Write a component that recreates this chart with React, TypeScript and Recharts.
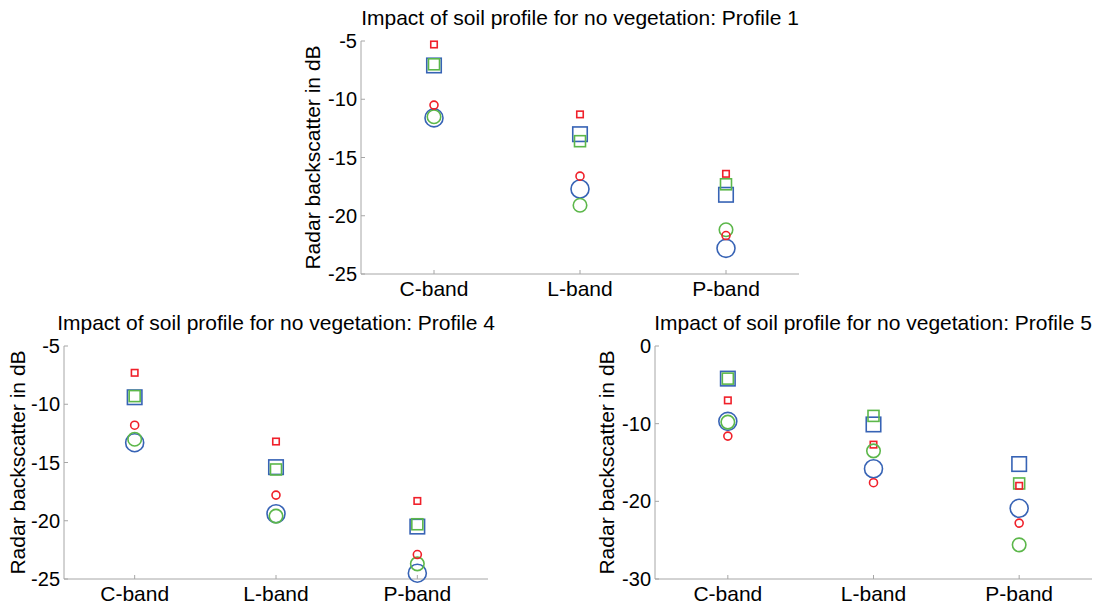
import { ComposedChart, Scatter, XAxis, YAxis } from "recharts";

const BANDS = ["C-band", "L-band", "P-band"];

// Profile 1
const P1_RED_SQ = [-5.3, -11.3, -16.4];
const P1_GREEN_SQ = [-7.0, -13.6, -17.3];
const P1_BLUE_SQ = [-7.1, -13.0, -18.2];
const P1_RED_CI = [-10.5, -16.6, -21.7];
const P1_GREEN_CI = [-11.5, -19.1, -21.2];
const P1_BLUE_CI = [-11.6, -17.7, -22.8];

// Profile 4
const P4_RED_SQ = [-7.3, -13.2, -18.3];
const P4_GREEN_SQ = [-9.3, -15.6, -20.3];
const P4_BLUE_SQ = [-9.4, -15.4, -20.5];
const P4_RED_CI = [-11.8, -17.8, -22.9];
const P4_GREEN_CI = [-13.0, -19.6, -23.7];
const P4_BLUE_CI = [-13.3, -19.4, -24.5];

// Profile 5
const P5_RED_SQ = [-7.0, -12.7, -18.0];
const P5_GREEN_SQ = [-4.2, -9.0, -17.7];
const P5_BLUE_SQ = [-4.2, -10.1, -15.2];
const P5_RED_CI = [-11.6, -17.6, -22.8];
const P5_GREEN_CI = [-9.8, -13.5, -25.6];
const P5_BLUE_CI = [-9.7, -15.8, -20.9];

const TICKS_25 = [-25, -20, -15, -10, -5];
const TICKS_30 = [-30, -20, -10, 0];

const RED = "#f0202a";
const GREEN = "#5cb74a";
const BLUE = "#3763b5";
const AXIS = "#a6a6a6";
const FONT = "'Liberation Sans', Arial, sans-serif";

type Series = {
  redSq: number[]; greenSq: number[]; blueSq: number[];
  redCi: number[]; greenCi: number[]; blueCi: number[];
};

function buildRows(s: Series) {
  return BANDS.map((band, i) => ({
    band,
    blueSq: s.blueSq[i], greenSq: s.greenSq[i], redSq: s.redSq[i],
    blueCi: s.blueCi[i], greenCi: s.greenCi[i], redCi: s.redCi[i],
  }));
}

function marker(kind: "sq" | "ci", size: number, color: string) {
  return (props: any) => {
    const { cx, cy } = props;
    if (cx == null || cy == null) return <g />;
    if (kind === "sq") {
      return (
        <rect x={cx - size / 2} y={cy - size / 2} width={size} height={size}
          fill="none" stroke={color} strokeWidth={1.6} />
      );
    }
    return <circle cx={cx} cy={cy} r={size / 2} fill="none" stroke={color} strokeWidth={1.6} />;
  };
}

interface PanelProps {
  series: Series;
  domain: [number, number];
  ticks: number[];
  left: number; top: number; width: number; height: number;
  margin: { top: number; right: number; left: number; bottom: number };
  labelOffset: number;
  xHeight: number;
}

function Panel({ series, domain, ticks, left, top, width, height, margin, labelOffset, xHeight }: PanelProps) {
  const rows = buildRows(series);
  // plot width, so each band takes one third and marks sit in the middle
  const plotW = width - margin.left - margin.right - 50;
  const pad = plotW / 6;
  return (
    <div style={{ position: "absolute", left, top }}>
      <ComposedChart width={width} height={height} data={rows} margin={margin}>
        <XAxis
          dataKey="band"
          type="category"
          height={xHeight}
          padding={{ left: pad, right: pad }}
          stroke={AXIS}
          tickSize={-4}
          tickMargin={11}
          tick={{ fontSize: 21, fill: "#000", fontFamily: FONT }}
        />
        <YAxis
          type="number"
          domain={domain}
          ticks={ticks}
          width={50}
          stroke={AXIS}
          tickSize={-4}
          tickMargin={8}
          tick={{ fontSize: 20, fill: "#000", fontFamily: FONT }}
          label={{
            value: "Radar backscatter in dB",
            angle: -90,
            position: "insideLeft",
            offset: labelOffset,
            style: { textAnchor: "middle", fontSize: 21, fill: "#000", fontFamily: FONT },
          }}
        />
        <Scatter dataKey="blueSq" isAnimationActive={false} shape={marker("sq", 14.5, BLUE)} />
        <Scatter dataKey="greenSq" isAnimationActive={false} shape={marker("sq", 11, GREEN)} />
        <Scatter dataKey="redSq" isAnimationActive={false} shape={marker("sq", 6.5, RED)} />
        <Scatter dataKey="blueCi" isAnimationActive={false} shape={marker("ci", 18, BLUE)} />
        <Scatter dataKey="greenCi" isAnimationActive={false} shape={marker("ci", 13.5, GREEN)} />
        <Scatter dataKey="redCi" isAnimationActive={false} shape={marker("ci", 8, RED)} />
      </ComposedChart>
    </div>
  );
}

export default function App() {
  return (
    <div style={{ position: "absolute", left: 0, top: 0, width: 1099, height: 607, background: "#fff", overflow: "hidden" }}>
      <Panel
        series={{ redSq: P1_RED_SQ, greenSq: P1_GREEN_SQ, blueSq: P1_BLUE_SQ, redCi: P1_RED_CI, greenCi: P1_GREEN_CI, blueCi: P1_BLUE_CI }}
        domain={[-25, -5]} ticks={TICKS_25}
        left={290} top={0} width={520} height={305}
        margin={{ top: 41, right: 11, left: 21, bottom: 0 }}
        xHeight={31} labelOffset={2}
      />
      <Panel
        series={{ redSq: P4_RED_SQ, greenSq: P4_GREEN_SQ, blueSq: P4_BLUE_SQ, redCi: P4_RED_CI, greenCi: P4_GREEN_CI, blueCi: P4_BLUE_CI }}
        domain={[-25, -5]} ticks={TICKS_25}
        left={0} top={300} width={500} height={307}
        margin={{ top: 46, right: 12, left: 14, bottom: 0 }}
        xHeight={28} labelOffset={4}
      />
      <Panel
        series={{ redSq: P5_RED_SQ, greenSq: P5_GREEN_SQ, blueSq: P5_BLUE_SQ, redCi: P5_RED_CI, greenCi: P5_GREEN_CI, blueCi: P5_BLUE_CI }}
        domain={[-30, 0]} ticks={TICKS_30}
        left={590} top={300} width={509} height={307}
        margin={{ top: 46, right: 7, left: 15, bottom: 0 }}
        xHeight={28} labelOffset={2}
      />
      <svg width={1099} height={607} style={{ position: "absolute", left: 0, top: 0, pointerEvents: "none" }}>
        <g fontFamily={FONT} fontSize={21} fill="#000" textAnchor="middle">
          <text x={580} y={25}>Impact of soil profile for no vegetation: Profile 1</text>
          <text x={276} y={330}>Impact of soil profile for no vegetation: Profile 4</text>
          <text x={873} y={330}>Impact of soil profile for no vegetation: Profile 5</text>
        </g>
      </svg>
    </div>
  );
}
